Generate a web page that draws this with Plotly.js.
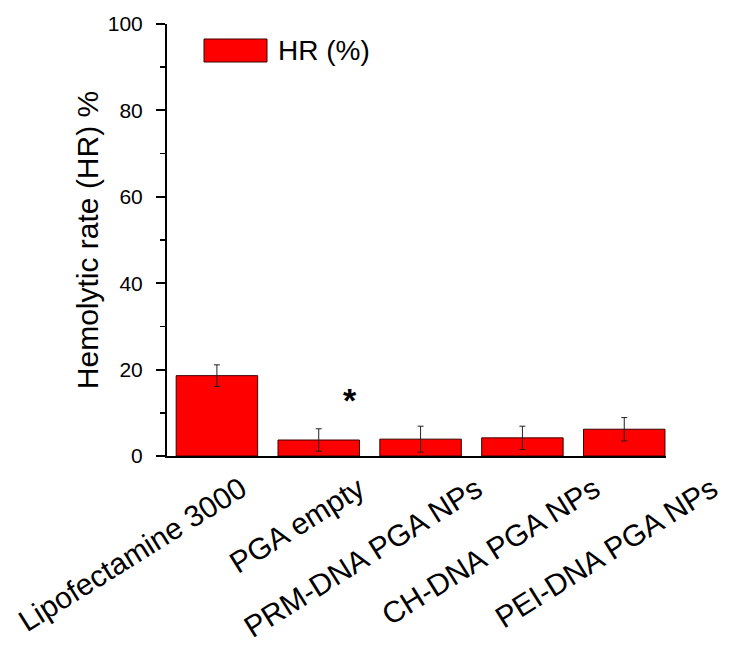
<!DOCTYPE html>
<html>
<head>
<meta charset="utf-8">
<script src="https://cdn.plot.ly/plotly-3.0.1.min.js"></script>
<style>html,body{margin:0;padding:0;background:#fff;}#chart{width:747px;height:652px;}</style>
</head>
<body>
<div id="chart"></div>
<script>
const categories = ["Lipofectamine 3000", "PGA empty", "PRM-DNA PGA NPs", "CH-DNA PGA NPs", "PEI-DNA PGA NPs"];
const hrValues = [18.6, 3.7, 3.9, 4.2, 6.2];
const hrErrors = [2.5, 2.6, 3.0, 2.7, 2.7];
const yTickVals = [0, 20, 40, 60, 80, 100];
const seriesName = "HR (%)";

const FONT = "Liberation Sans, Arial, sans-serif";
const W = 747, H = 652;
const plotL = 167, plotR = 666, plotT = 24, plotB = 456;
const xDom = [plotL / W, plotR / W];
const yDom = [(H - plotB) / H, (H - plotT) / H];

// label axis: tick i placed at pixel lab0 + labStep*i (labels are spaced wider than bars)
const lab0 = 241, labStep = 117.75;
const labRange = [-lab0 / labStep, (W - lab0) / labStep];

const idx = categories.map((c, i) => i);

const bars = {
  type: "bar",
  x: idx,
  y: hrValues,
  name: seriesName,
  width: 0.8,
  marker: {color: "#ff0000", line: {color: "#3a0000", width: 1}},
  error_y: {type: "data", array: hrErrors, visible: true, color: "#222", thickness: 1, width: 3},
  showlegend: false,
  xaxis: "x", yaxis: "y"
};
const labelHolder = {
  type: "scatter", mode: "markers", x: [], y: [], xaxis: "x2", yaxis: "y",
  showlegend: false, hoverinfo: "skip"
};

const layout = {
  width: W, height: H,
  margin: {l: 0, r: 0, t: 0, b: 0},
  paper_bgcolor: "#fff", plot_bgcolor: "rgba(0,0,0,0)",
  font: {family: FONT, color: "#000"},
  xaxis: {
    domain: xDom, anchor: "y",
    range: [-0.49, 4.41],
    showticklabels: false,
    ticks: "", showline: true, linecolor: "#000", linewidth: 2,
    showgrid: false, zeroline: false
  },
  xaxis2: {
    domain: [0, 1], anchor: "free", position: yDom[0],
    range: labRange,
    tickmode: "array", tickvals: idx, ticktext: categories,
    tickangle: -32, tickfont: {size: 30, family: FONT},
    ticks: "", showline: false, showgrid: false, zeroline: false,
    ticklabelstandoff: 9
  },
  yaxis: {
    domain: yDom, anchor: "x",
    range: [0, 100],
    tickmode: "array", tickvals: yTickVals,
    ticks: "outside", ticklen: 9, tickwidth: 2, tickcolor: "#000",
    minor: {dtick: 10, ticks: "outside", ticklen: 5, tickwidth: 1.5, tickcolor: "#000", showgrid: false},
    tickfont: {size: 21, family: FONT},
    ticklabelstandoff: 9,
    showline: true, linecolor: "#000", linewidth: 2,
    showgrid: false, zeroline: false,
    title: {text: "Hemolytic rate (HR) %", font: {size: 30, family: FONT}, standoff: 0}
  },
  shapes: [{
    type: "rect", xref: "paper", yref: "paper",
    x0: 204 / W, x1: 267 / W, y0: (H - 62) / H, y1: (H - 39) / H,
    fillcolor: "#ff0000", line: {color: "#3a0000", width: 1}
  }],
  annotations: [
    {xref: "paper", yref: "paper", x: 276 / W, y: (H - 50.5) / H, xanchor: "left", yanchor: "middle",
     text: seriesName, showarrow: false, font: {size: 28, family: FONT}},
    {xref: "x", yref: "y", x: 1.31, y: 13.0, text: "<b>*</b>", showarrow: false,
     font: {size: 34, family: FONT}}
  ]
};

Plotly.newPlot("chart", [bars, labelHolder], layout, {displayModeBar: false, staticPlot: true});
</script>
</body>
</html>
